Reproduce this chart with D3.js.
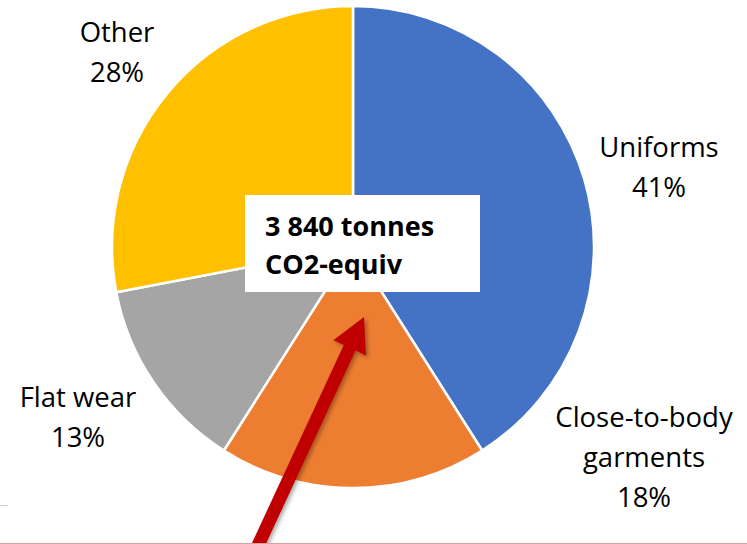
<!DOCTYPE html>
<html>
<head>
<meta charset="utf-8">
<script src="https://cdn.jsdelivr.net/npm/d3@7"></script>
<style>
  body { margin: 0; background: #fff; }
  svg { display: block; font-family: "Open Sans", "Noto Sans", sans-serif; }
</style>
</head>
<body>
<script>
// data
var categories = ["Uniforms", "Close-to-body garments", "Flat wear", "Other"];
var values = [41, 18, 13, 28];
var colors = ["#4472C4", "#ED7D31", "#A5A5A5", "#FFC000"];
var totalLabel = ["3 840 tonnes", "CO2-equiv"];

// label layout (centre x, first baseline y, line breaks)
var labelLayout = [
  {x: 659, y: 157, lines: ["Uniforms"]},
  {x: 644, y: 427, lines: ["Close-to-body", "garments"]},
  {x: 78, y: 407, lines: ["Flat wear"]},
  {x: 117, y: 42, lines: ["Other"]}
];

var width = 747, height = 544;
var cx = 353, cy = 247, radius = 241;

var svg = d3.select("body").append("svg")
    .attr("width", width)
    .attr("height", height);

var defs = svg.append("defs");
var shadow = defs.append("filter")
    .attr("id", "shadow")
    .attr("x", "-50%").attr("y", "-50%")
    .attr("width", "200%").attr("height", "200%");
shadow.append("feDropShadow")
    .attr("dx", 2).attr("dy", 2)
    .attr("stdDeviation", 2)
    .attr("flood-color", "#000")
    .attr("flood-opacity", 0.35);

var pie = d3.pie().sort(null).value(function(d) { return d; });
var arc = d3.arc().innerRadius(0).outerRadius(radius);

var g = svg.append("g")
    .attr("transform", "translate(" + cx + "," + cy + ")");

g.selectAll(".slice")
  .data(pie(values))
  .enter().append("path")
    .attr("class", "slice")
    .attr("d", arc)
    .attr("fill", function(d, i) { return colors[i]; })
    .attr("stroke", "#fff")
    .attr("stroke-width", 2.5)
    .attr("stroke-linejoin", "round");

// slice labels
var lineH = 40;
labelLayout.forEach(function(l, i) {
  var t = svg.append("text")
      .attr("x", l.x)
      .attr("y", l.y)
      .attr("text-anchor", "middle")
      .attr("font-size", 27.5)
      .attr("fill", "#000");
  var lines = l.lines.concat([values[i] + "%"]);
  lines.forEach(function(s, k) {
    t.append("tspan")
      .attr("x", l.x)
      .attr("y", l.y + k * lineH)
      .text(s);
  });
});

// centre box with total
svg.append("rect")
    .attr("x", 245).attr("y", 195)
    .attr("width", 235).attr("height", 97)
    .attr("fill", "#fff");

totalLabel.forEach(function(s, k) {
  svg.append("text")
      .attr("x", 265)
      .attr("y", 236 + k * 38)
      .attr("font-size", 27)
      .attr("font-weight", "bold")
      .attr("fill", "#000")
      .text(s);
});

// red arrow pointing at the slice
var start = [255, 552], tip = [364, 317];
var dx = tip[0] - start[0], dy = tip[1] - start[1];
var len = Math.sqrt(dx * dx + dy * dy);
var ux = dx / len, uy = dy / len, px = -uy, py = ux;
var headL = 34, headW = 18, shaft = 6.5;
var bx = tip[0] - ux * headL, by = tip[1] - uy * headL;
var pts = [
  [start[0] + px * shaft, start[1] + py * shaft],
  [bx + px * shaft, by + py * shaft],
  [bx + px * headW, by + py * headW],
  tip,
  [bx - px * headW, by - py * headW],
  [bx - px * shaft, by - py * shaft],
  [start[0] - px * shaft, start[1] - py * shaft]
];
svg.append("path")
    .attr("d", d3.line()(pts) + "Z")
    .attr("fill", "#C00000")
    .attr("filter", "url(#shadow)");

// frame lines at the bottom
svg.append("line")
    .attr("x1", 0).attr("x2", width)
    .attr("y1", 543.5).attr("y2", 543.5)
    .attr("stroke", "#d9a3a3").attr("stroke-width", 1);
svg.append("line")
    .attr("x1", 0).attr("x2", 8)
    .attr("y1", 505.5).attr("y2", 505.5)
    .attr("stroke", "#d0d0d0").attr("stroke-width", 1);
</script>
</body>
</html>
